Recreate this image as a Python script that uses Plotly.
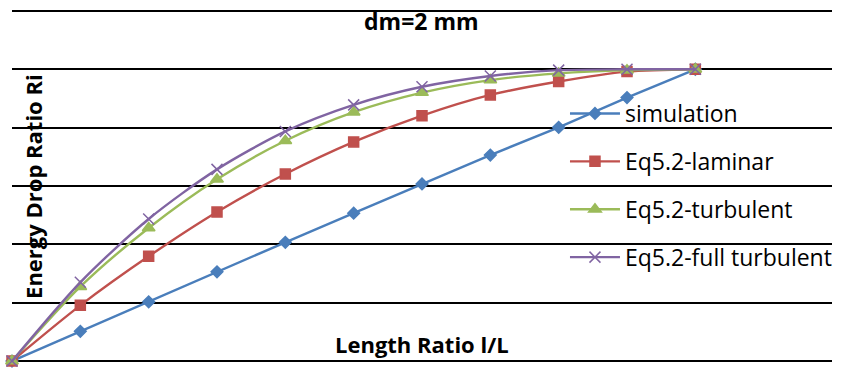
import plotly.graph_objects as go

# Length ratio l/L and energy drop ratio Ri for each model
length_ratio = [0.0, 0.1, 0.2, 0.3, 0.4, 0.5, 0.6, 0.7, 0.8, 0.9, 1.0]
simulation = [0, 0.102, 0.203, 0.306, 0.407, 0.507, 0.607, 0.706, 0.801, 0.903, 1.0]
eq_laminar = [0, 0.191, 0.359, 0.511, 0.641, 0.751, 0.841, 0.912, 0.958, 0.992, 1.0]
eq_turbulent = [0, 0.255, 0.456, 0.623, 0.755, 0.853, 0.920, 0.963, 0.986, 0.997, 1.0]
eq_full_turbulent = [0, 0.270, 0.487, 0.657, 0.787, 0.878, 0.940, 0.977, 0.997, 1.0, 1.0]

FONT = "Open Sans"

series = [
    ("simulation", simulation, "#4A7EBB", "diamond", 9, "linear"),
    ("Eq5.2-laminar", eq_laminar, "#C0504D", "square", 10, "spline"),
    ("Eq5.2-turbulent", eq_turbulent, "#9BBB59", "triangle-up", 11, "spline"),
    ("Eq5.2-full turbulent", eq_full_turbulent, "#8064A2", "x-thin", 11, "spline"),
]

W, H = 842, 369
ml, mr, mt, mb = 12, 7, 8, 5
pw, ph = W - ml - mr, H - mt - mb


def px(x):
    return (x - ml) / pw


def py(y):
    return 1 - (y - mt) / ph


fig = go.Figure()
for i, (name, vals, color, symbol, size, shape) in enumerate(series):
    fig.add_trace(go.Scatter(
        x=length_ratio, y=vals, name=name, mode="lines+markers",
        line=dict(color=color, width=2.4, shape=shape, smoothing=0.8),
        marker=dict(symbol=symbol, size=size, color=color,
                    line=dict(color=color, width=1.5)),
        legendgroup=str(i), cliponaxis=False,
    ))

fig.update_layout(
    width=W, height=H,
    margin=dict(l=ml, r=mr, t=mt, b=mb),
    paper_bgcolor="white", plot_bgcolor="white",
    font=dict(family=FONT, color="black"),
    showlegend=True,
    legend=dict(x=px(567), y=py(92), xanchor="left", yanchor="top",
                bgcolor="rgba(0,0,0,0)", font=dict(size=23, family=FONT),
                itemwidth=50, tracegroupgap=15, traceorder="grouped"),
    xaxis=dict(range=[0, 1.2], showgrid=False, zeroline=False,
               showticklabels=False, ticks="", showline=False),
    yaxis=dict(range=[-0.01, 1.21], tick0=0, dtick=0.2, showgrid=True,
               gridcolor="black", gridwidth=1.5, zeroline=False,
               showticklabels=False, ticks="", showline=False),
    annotations=[
        dict(text="<b>dm=2 mm</b>", x=px(423), y=py(21),
             font=dict(size=23, family=FONT)),
        dict(text="<b>Length Ratio l/L</b>", x=px(424), y=py(344),
             font=dict(size=22, family=FONT)),
        dict(text="<b>Energy Drop Ratio Ri</b>", x=px(33), y=py(186),
             textangle=-90, font=dict(size=22, family=FONT)),
    ],
)
fig.update_annotations(xref="paper", yref="paper", showarrow=False,
                       xanchor="center", yanchor="middle")

fig.write_html("out.html")
